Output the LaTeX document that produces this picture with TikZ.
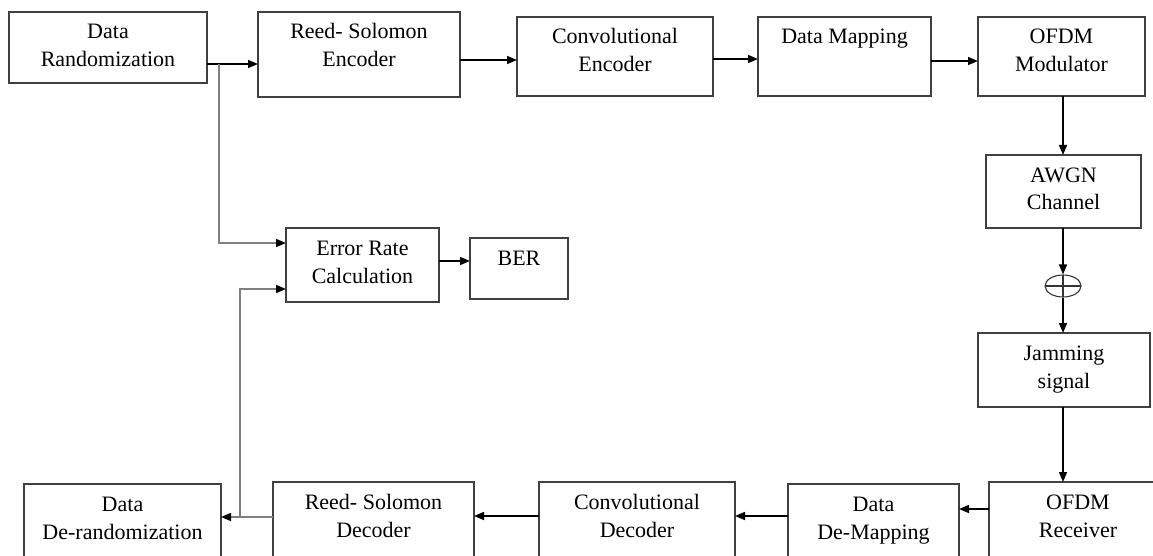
\documentclass[tikz,border=0pt]{standalone}
\usepackage{fontspec}
\setmainfont{Liberation Serif}
\usetikzlibrary{arrows.meta,shapes.geometric}
\newcommand{\bxt}[3]{\parbox[c][#2pt][t]{#1pt}{\centering\rule{0pt}{27pt}#3}}
\begin{document}
\begin{tikzpicture}[x=1pt,y=-1pt,
  box/.style={draw=black!75, line width=1.2pt, inner sep=0pt, outer sep=0pt,
    anchor=north west, font=\fontsize{22}{28}\selectfont},
  arr/.style={line width=1.5pt, -{Triangle[length=10pt,width=8pt]}},
  garr/.style={line width=1.5pt, draw=black!50, -{Triangle[length=10pt,width=8pt,color=black]}}]
\useasboundingbox (0,0) rectangle (1153,556);
\clip (0,0) rectangle (1153,556);
% top row
\node[box] (dr)   at (9,12)   {\bxt{198}{71}{Data\\Randomization}};
\node[box] (rse)  at (258,12) {\bxt{202}{85}{Reed- Solomon\\Encoder}};
\node[box] (ce)   at (517,17) {\bxt{196}{79}{Convolutional\\Encoder}};
\node[box] (dm)   at (758,17) {\bxt{173}{79}{Data Mapping}};
\node[box] (ofdm) at (978,17) {\bxt{167}{79}{OFDM\\Modulator}};
% right column
\node[box] (awgn) at (986,155) {\bxt{155}{73}{AWGN\\Channel}};
\node[ellipse, draw=black!80, line width=1.1pt, minimum width=36pt, minimum height=22pt, inner sep=0pt,
  path picture={\draw[line width=1.1pt] (path picture bounding box.west) -- (path picture bounding box.east);
                \draw[line width=1.1pt] (path picture bounding box.north) -- (path picture bounding box.south);}]
  (sum) at (1063,286) {};
\node[box] (jam)  at (978,333) {\bxt{172}{74}{Jamming\\signal}};
% middle
\node[box] (err)  at (286,228) {\bxt{153}{74}{Error Rate\\Calculation}};
\node[box] (ber)  at (470,238) {\bxt{98}{61}{BER}};
% bottom row
\node[box] (rx)     at (989,482) {\bxt{178}{95}{OFDM\\Receiver}};
\node[box] (demap)  at (788,484) {\bxt{171}{95}{Data\\De-Mapping}};
\node[box] (cd)     at (539,482) {\bxt{196}{95}{Convolutional\\Decoder}};
\node[box] (rsd)    at (273,482) {\bxt{201}{95}{Reed- Solomon\\Decoder}};
\node[box] (derand) at (24,484)  {\bxt{197}{95}{Data\\De-randomization}};
% connectors
\coordinate (b1) at (219,64);
\coordinate (b2) at (240,517);
\draw[arr] (dr.east |- 0,64) -- (rse.west |- 0,64);
\draw[garr] (b1) |- (err.west |- 0,243);
\draw[arr] (rse.east |- 0,60) -- (ce.west |- 0,60);
\draw[arr] (ce.east |- 0,59) -- (dm.west |- 0,59);
\draw[arr] (dm.east |- 0,61) -- (ofdm.west |- 0,61);
\draw[arr] (ofdm.south -| sum) -- (awgn.north -| sum);
\draw[arr] (awgn.south -| sum) -- (sum.north);
\draw[arr] (sum.south) -- (jam.north -| sum);
\draw[arr] (jam.south -| sum) -- (rx.north -| sum);
\draw[arr] (rx.west |- 0,509) -- (demap.east |- 0,509);
\draw[arr] (demap.west |- 0,516) -- (cd.east |- 0,516);
\draw[arr] (cd.west |- 0,516) -- (rsd.east |- 0,516);
\draw[garr] (rsd.west |- 0,517) -- (derand.east |- 0,517);
\draw[garr] (b2) |- (err.west |- 0,289);
\draw[arr] (err.east |- 0,261) -- (ber.west |- 0,261);
\end{tikzpicture}
\end{document}
